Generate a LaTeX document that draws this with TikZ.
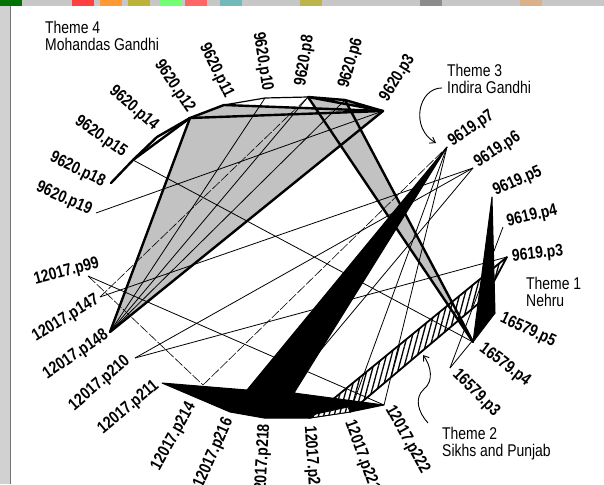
\documentclass[tikz,border=0pt]{standalone}
\usepackage{fontspec}
\newfontfamily\lblfont{Liberation Sans}[FakeStretch=0.82]
\usetikzlibrary{arrows.meta,patterns.meta}

\begin{document}
\begin{tikzpicture}[x=1pt, y=-1pt,
    every node/.style={inner sep=0pt},
    lbl/.style={font=\lblfont\bfseries\fontsize{17}{20}\selectfont},
    theme/.style={font=\lblfont\fontsize{17}{17}\selectfont, align=left},
    link/.style={line width=0.8pt},
    faint/.style={line width=0.6pt, dash pattern=on 10pt off 2pt},
    rim/.style={line width=2.4pt, line join=round, line cap=round},
    stipple/.style={fill=black!24},
    blackfill/.style={fill=black, draw=black, line width=1pt, line join=round},
    hatch/.style={preaction={fill=white}, pattern={Lines[angle=75,distance=5pt,line width=1.3pt]}},
    pointer/.style={line width=0.9pt, -{Straight Barb[length=5pt,width=7pt]}}
]
\useasboundingbox (0,0) rectangle (604,484);

% window frame of the scan
\fill[black!22] (0,0) rectangle (604,6);
\foreach \x/\c in {0/green!45!black, 72/red!75, 100/orange!80, 128/yellow!70!black, 160/green!55, 185/red!60, 220/teal!55, 300/olive!60, 420/black!45, 520/brown!60} {
    \fill[\c] (\x,0) rectangle ++(22,6);
}
\fill[black!18] (0,6) rectangle (10,484);
\draw[black!55] (10,6) -- (10,484);
\clip (10,6) rectangle (604,484);

% anchor points round the circle
\coordinate (G3) at (383,111);
\coordinate (G6) at (345,100);
\coordinate (G8) at (308,97);
\coordinate (G10) at (265,98);
\coordinate (G11) at (224,105);
\coordinate (G12) at (190,118);
\coordinate (G14) at (157,137);
\coordinate (G15) at (133,160);
\coordinate (G18) at (111,183);
\coordinate (G19) at (96,213);
\coordinate (S99) at (88,276);
\coordinate (S147) at (100,297);
\coordinate (S148) at (110,332);
\coordinate (S210) at (135,358);
\coordinate (S211) at (162,383);
\coordinate (S214) at (203,385);
\coordinate (S216) at (230,412);
\coordinate (S218) at (264,418);
\coordinate (S220) at (310,418);
\coordinate (S221) at (350,412);
\coordinate (S222) at (384,405);
\coordinate (N3) at (450,368);
\coordinate (N4) at (473,342);
\coordinate (N5) at (495,313);
\coordinate (I3) at (507,257);
\coordinate (I4) at (503,227);
\coordinate (I5) at (492,197);
\coordinate (I6) at (473,168);
\coordinate (I7) at (447,147);
% corners of the shapes
\coordinate (W1) at (247,390);
\coordinate (W2) at (294,393);
\coordinate (H1) at (485,298);

% Theme 4 fields
\fill[stipple] (S148) -- (G12) -- (G3) -- cycle;
\fill[stipple] (G12) -- (G11) -- (G3) -- cycle;
\fill[stipple] (G8) -- (G6) -- (G3) -- cycle;
\fill[stipple] (G8) -- (G6) -- (N4) -- cycle;

% Theme 2 band
\fill[hatch] (S220) -- (I3) -- (H1) -- (S221) -- cycle;

% single links
\foreach \a/\b in {G19/G3, G15/N4, S99/S222, G10/S148, G8/S148, G6/S148,
                   S210/I6, S210/I3, I6/S218, I6/S147, I7/S221, I7/S222,
                   N3/I4, N3/N5} {
    \draw[link] (\a) -- (\b);
}
\foreach \a/\b in {S99/S214, S147/G8, S214/I7} {
    \draw[faint] (\a) -- (\b);
}

% Theme 4 rims
\draw[rim] (S148) -- (G12) -- (G3) -- cycle;
\draw[rim] (G18) -- (G15) -- (G14) -- (G12) -- (G11) -- (G3);
\draw[rim] (G15) -- (G12);
\draw[rim] (G8) -- (G6) -- (G3) -- (G8);
\draw[rim] (G8) -- (N4) -- (G6);
\draw[line width=1.2pt] (G11) -- (G10) -- (G8);

% Theme 2 rim
\draw[line width=1.8pt, line join=round] (S220) -- (I3) -- (H1) -- (S221);

% Theme 3
\filldraw[blackfill] (S211) -- (W1) -- (I7) -- (W2) -- (S222) -- (S221)
    -- (S220) -- (S218) -- (S216) -- cycle;
\filldraw[hatch, draw=black, line width=0.9pt] (S220) -- (S221) -- ([shift={(-2,-5)}]S221)
    -- ([shift={(6,-4)}]S220) -- cycle;

% Theme 1
\filldraw[blackfill] (I5) -- (N5) -- (N4) -- cycle;

% labels, left half
\node[lbl, rotate=-81, anchor=east] (tG10) at (267,91) {9620.p10};
\node[lbl, rotate=-64, anchor=east] (tG11) at (229,97) {9620.p11};
\node[lbl, rotate=-56, anchor=east] (tG12) at (191,111) {9620.p12};
\node[lbl, rotate=-41, anchor=east] (tG14) at (156,128) {9620.p14};
\node[lbl, rotate=-35, anchor=east] (tG15) at (125,154) {9620.p15};
\node[lbl, rotate=-26, anchor=east] (tG18) at (104,183) {9620.p18};
\node[lbl, rotate=-24, anchor=east] (tG19) at (91,211) {9620.p19};
\node[lbl, rotate=15, anchor=east] (tS99) at (99,263) {12017.p99};
\node[lbl, rotate=31, anchor=east] (tS147) at (98,299) {12017.p147};
\node[lbl, rotate=34, anchor=east] (tS148) at (107,334) {12017.p148};
\node[lbl, rotate=41, anchor=east] (tS210) at (128,359) {12017.p210};
\node[lbl, rotate=40, anchor=east] (tS211) at (157,384) {12017.p211};
\node[lbl, rotate=61, anchor=east] (tS214) at (192,404) {12017.p214};
\node[lbl, rotate=66, anchor=east] (tS216) at (229,419) {12017.p216};
\node[lbl, rotate=87, anchor=east] (tS218) at (265,424) {12017.p218};

% labels, right half
\node[lbl, rotate=-86, anchor=west] (tS220) at (309,426) {12017.p220};
\node[lbl, rotate=-70, anchor=west] (tS221) at (349,421) {12017.p221};
\node[lbl, rotate=-61, anchor=west] (tS222) at (389,407) {12017.p222};
\node[lbl, rotate=-45, anchor=west] (tN3) at (455,372) {16579.p3};
\node[lbl, rotate=-37, anchor=west] (tN4) at (481,347) {16579.p4};
\node[lbl, rotate=-25, anchor=west] (tN5) at (501,318) {16579.p5};
\node[lbl, rotate=6, anchor=west] (tI3) at (512,257) {9619.p3};
\node[lbl, rotate=13, anchor=west] (tI4) at (507,222) {9619.p4};
\node[lbl, rotate=24, anchor=west] (tI5) at (494,192) {9619.p5};
\node[lbl, rotate=33, anchor=west] (tI6) at (476,164) {9619.p6};
\node[lbl, rotate=34, anchor=west] (tI7) at (450,143) {9619.p7};
\node[lbl, rotate=58, anchor=west] (tG3) at (384,100) {9620.p3};
\node[lbl, rotate=74, anchor=west] (tG6) at (344,88) {9620.p6};
\node[lbl, rotate=81, anchor=west] (tG8) at (301,86) {9620.p8};

% theme names
\node[theme, anchor=north west] (th4) at (45,20.5) {Theme 4\\Mohandas Gandhi};
\node[theme, anchor=north west] (th3) at (447,64) {Theme 3\\Indira Gandhi};
\node[theme, anchor=north west] (th1) at (526,277) {Theme 1\\Nehru};
\node[theme, anchor=north west] (th2) at (442,427) {Theme 2\\Sikhs and Punjab};

% pointers
\coordinate (a3) at (436,143);
\coordinate (a2) at (423,355);
\draw[pointer] ([shift={(-5,9)}]th3.west) .. controls (418,88) and (410,128) .. (a3);
\draw[pointer] ([shift={(-14,-4)}]th2.north west) .. controls (418,412) and (414,398) .. (424,389)
    .. controls (434,381) and (431,366) .. (a2);

\end{tikzpicture}
\end{document}
